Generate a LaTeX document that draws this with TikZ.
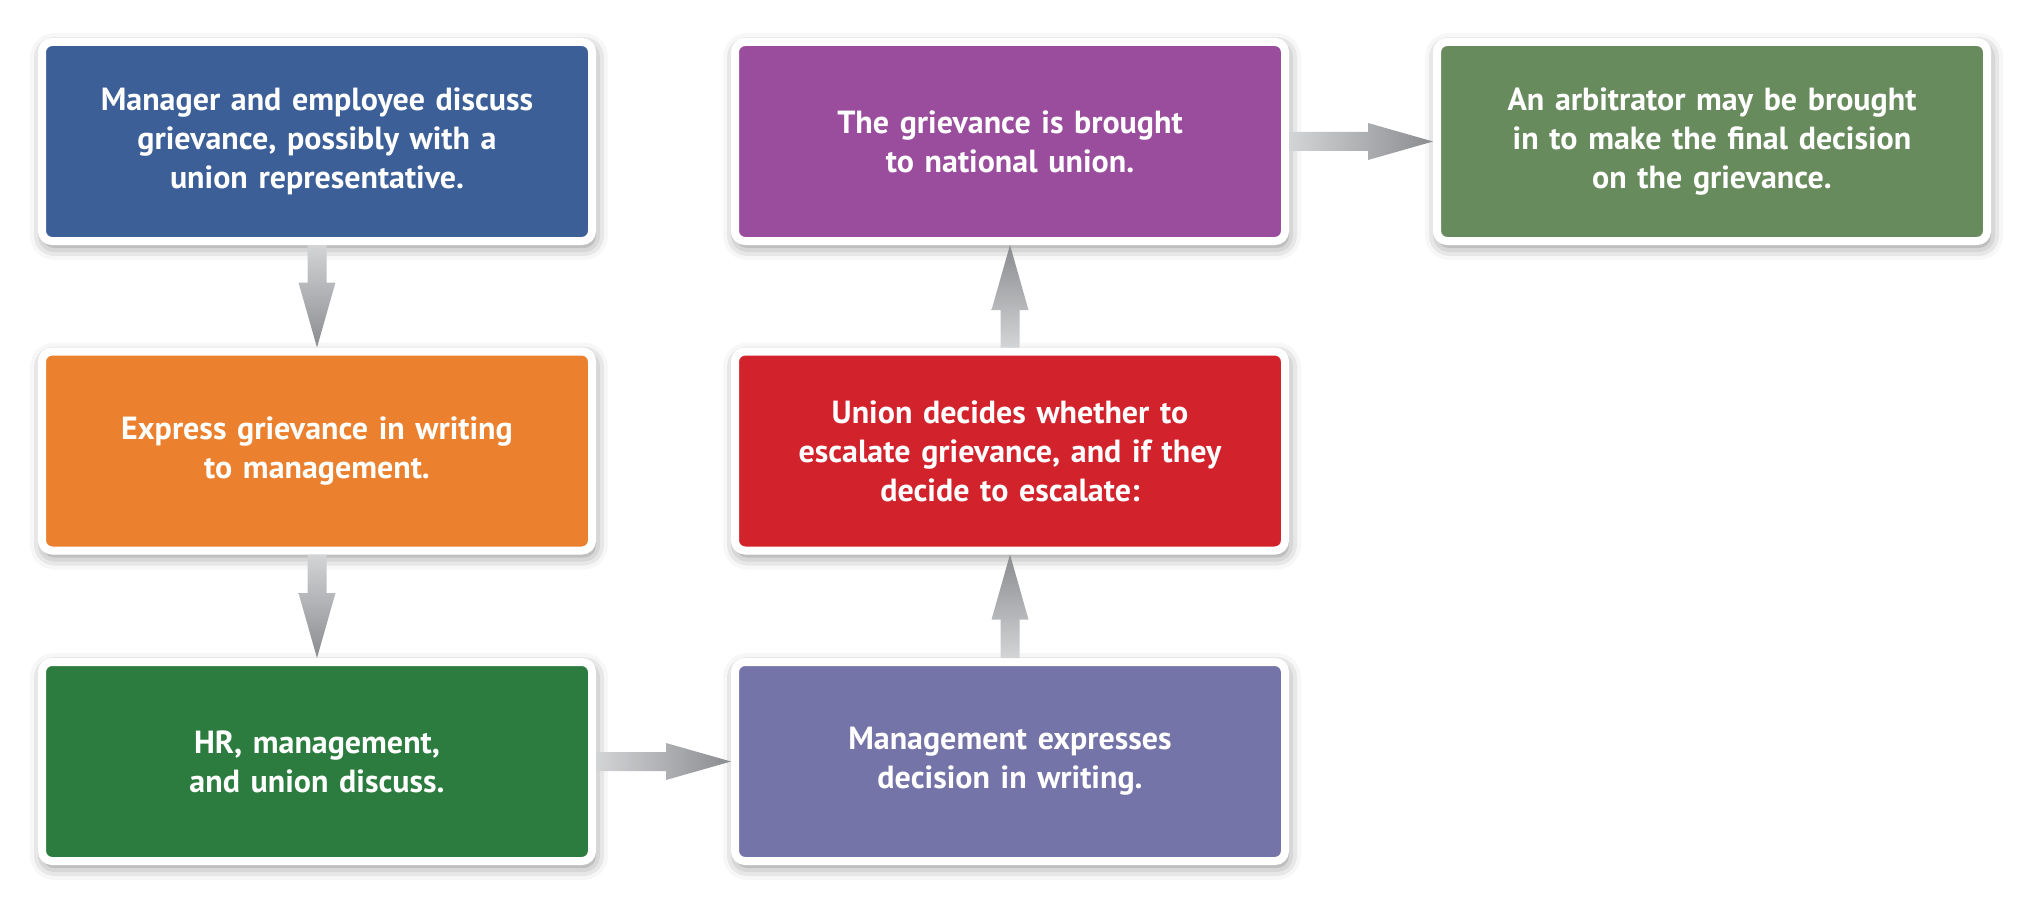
\documentclass[tikz,border=0pt]{standalone}
\usepackage{fontspec}
\setmainfont{PT Sans}
\usetikzlibrary{calc,shadows.blur}
\definecolor{cblue}{HTML}{3D5F98}
\definecolor{corange}{HTML}{EB812E}
\definecolor{cgreen}{HTML}{2B7C3E}
\definecolor{cviolet}{HTML}{7474A8}
\definecolor{cred}{HTML}{D2222B}
\definecolor{cpurple}{HTML}{9A4D9C}
\definecolor{csage}{HTML}{678B5C}
\definecolor{alight}{HTML}{D3D4D6}
\definecolor{adark}{HTML}{8A8C8F}
\tikzset{
  box/.style={draw=white, line width=4pt, rounded corners=5pt,
    minimum width=275pt, minimum height=99.5pt, inner sep=0pt, outer sep=2pt,
    text width=266pt, align=center, text=white,
    font=\bfseries\fontsize{16pt}{19.5pt}\selectfont,
    blur shadow={shadow xshift=1pt, shadow yshift=-2.5pt, shadow blur radius=7pt, shadow opacity=50}},
  adown/.style={top color=alight, bottom color=adark},
  aup/.style={bottom color=alight, top color=adark},
  aright/.style={left color=alight, right color=adark}
}
\begin{document}
\begin{tikzpicture}[x=0.5pt,y=-0.5pt]
\useasboundingbox (0,0) rectangle (2029,904);
\node[box, fill=cblue] (b1) at (317,141.5) {Manager and employee discuss\\grievance, possibly with a\\union representative.};
\node[box, fill=corange] (b2) at (317,451) {Express grievance in writing\\to management.};
\node[box, fill=cgreen] (b3) at (317,761.5) {HR, management,\\and union discuss.};
\node[box, fill=cviolet] (b4) at (1010,761.5) {Management expresses\\decision in writing.};
\node[box, fill=cred] (b5) at (1010,451) {Union decides whether to\\escalate grievance, and if they\\decide to escalate:};
\node[box, fill=cpurple] (b6) at (1010,141.5) {The grievance is brought\\to national union.};
\node[box, fill=csage] (b7) at (1712,141.5) {An arbitrator may be brought\\in to make the final decision\\on the grievance.};
% down arrows
\foreach \a/\b in {b1/b2, b2/b3}{
  \shade[adown] ($(\a.south)+(-9.5,0)$) -- ($(\b.north)+(-9.5,-65)$) -- ($(\b.north)+(-18.5,-65)$) -- (\b.north)
    -- ($(\b.north)+(18.5,-65)$) -- ($(\b.north)+(9.5,-65)$) -- ($(\a.south)+(9.5,0)$) -- cycle;
}
% up arrows
\foreach \a/\b in {b4/b5, b5/b6}{
  \shade[aup] ($(\a.north)+(-9.5,0)$) -- ($(\b.south)+(-9.5,65)$) -- ($(\b.south)+(-18.5,65)$) -- (\b.south)
    -- ($(\b.south)+(18.5,65)$) -- ($(\b.south)+(9.5,65)$) -- ($(\a.north)+(9.5,0)$) -- cycle;
}
% right arrows
\foreach \a/\b in {b3/b4, b6/b7}{
  \shade[aright] ($(\a.east)+(0,-9.5)$) -- ($(\b.west)+(-65,-9.5)$) -- ($(\b.west)+(-65,-18.5)$) -- (\b.west)
    -- ($(\b.west)+(-65,18.5)$) -- ($(\b.west)+(-65,9.5)$) -- ($(\a.east)+(0,9.5)$) -- cycle;
}
\end{tikzpicture}
\end{document}
